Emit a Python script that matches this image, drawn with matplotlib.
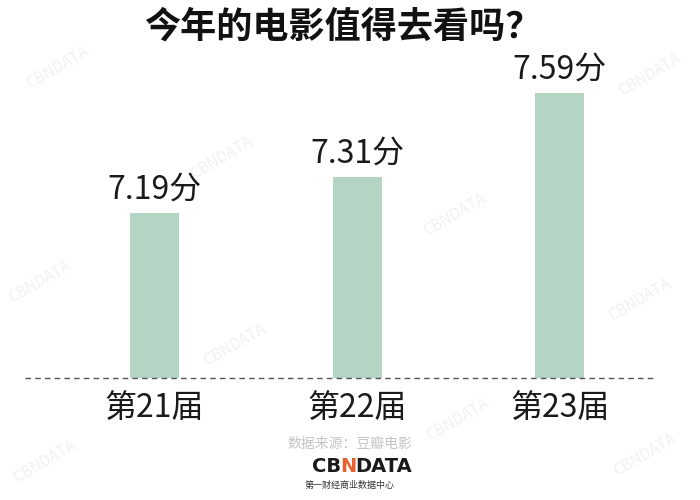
import matplotlib.pyplot as plt

plt.rcParams['font.family'] = ['Noto Sans CJK SC', 'DejaVu Sans']

# data
categories = ['第21届', '第22届', '第23届']
scores = [7.19, 7.31, 7.59]
value_labels = ['7.19分', '7.31分', '7.59分']

title = '今年的电影值得去看吗？'
source = '数据来源：豆瓣电影'

fig = plt.figure(figsize=(7, 5), dpi=100)
ax = fig.add_axes([25 / 700, 122 / 500, 630 / 700, 318 / 500])

# faint watermarks
marks = [(58, 68), (222, 158), (455, 215), (40, 282), (235, 345),
         (640, 300), (650, 75), (45, 462), (458, 420), (645, 455)]
for mx, my in marks:
    fig.text(mx / 700, 1 - my / 500, 'CBNDATA', fontsize=11, color='#f1f1f1',
             rotation=30, ha='center', va='center', zorder=0)

x = range(len(categories))
ax.bar(x, scores, width=0.24, color='#b4d5c3', zorder=2)
for i, v in enumerate(scores):
    ax.annotate(value_labels[i], (i, v), xytext=(0, 5), textcoords='offset points',
                ha='center', va='bottom', fontsize=23, color='#1a1a1a')

ax.set_xlim(-0.64, 2.47)
ax.set_ylim(6.64, 7.70)
ax.axhline(6.64, color='#555555', lw=1, ls=(0, (4, 3)), zorder=3, clip_on=False)
for s in ax.spines.values():
    s.set_visible(False)
ax.set_yticks([])
ax.set_xticks(list(x))
ax.set_xticklabels(categories, fontsize=23, color='#1a1a1a')
ax.tick_params(axis='x', length=0, pad=10)
ax.patch.set_alpha(0)

fig.text(343 / 700, 1 - 27 / 500, title, fontsize=26, fontweight='black',
         ha='center', va='center', color='#111111')

fig.text(350 / 700, 1 - 444 / 500, source, fontsize=10, color='#c4c4c4',
         ha='center', va='center')
fig.text(341 / 700, 1 - 467 / 500, 'CB', fontsize=14, fontweight='bold',
         color='#1a1a1a', ha='right', va='center', family='DejaVu Sans')
fig.text(348 / 700, 1 - 467 / 500, 'N', fontsize=14, fontweight='bold',
         color='#e8602c', ha='center', va='center', family='DejaVu Sans')
fig.text(355 / 700, 1 - 467 / 500, 'DATA', fontsize=14, fontweight='bold',
         color='#1a1a1a', ha='left', va='center', family='DejaVu Sans')
fig.text(350 / 700, 1 - 485 / 500, '第一财经商业数据中心', fontsize=6.5,
         color='#333333', ha='center', va='center')

fig.savefig('out.png', dpi=100)
